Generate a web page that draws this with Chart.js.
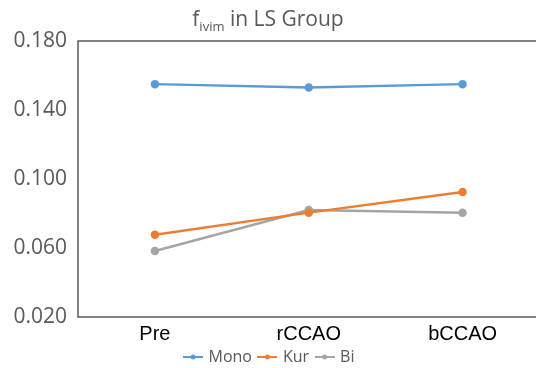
<!DOCTYPE html>
<html>
<head>
<meta charset="utf-8">
<script src="https://cdn.jsdelivr.net/npm/chart.js@4/dist/chart.umd.min.js"></script>
<style>
  html, body { margin: 0; padding: 0; background: #fff; overflow: hidden; }
  #wrap { position: relative; width: 536px; height: 368px; overflow: hidden; }
  #chart { display: block; }
</style>
</head>
<body>
<div id="wrap"><canvas id="chart" width="545" height="375"></canvas></div>
<script>
const categories = ['Pre', 'rCCAO', 'bCCAO'];
const monoValues = [0.155, 0.153, 0.155];
const kurValues = [0.0677, 0.0805, 0.0925];
const biValues = [0.0583, 0.082, 0.0805];
const yTicks = [0.020, 0.060, 0.100, 0.140, 0.180];

const grey = '#595959';

// little line+dot marker for the legend, like the spreadsheet one
function legendMarker(color) {
  const c = document.createElement('canvas');
  c.width = 20;
  c.height = 8;
  const ctx = c.getContext('2d');
  ctx.strokeStyle = color;
  ctx.lineWidth = 2;
  ctx.beginPath();
  ctx.moveTo(0, 4);
  ctx.lineTo(20, 4);
  ctx.stroke();
  ctx.fillStyle = color;
  ctx.beginPath();
  ctx.arc(10, 4, 2.5, 0, Math.PI * 2);
  ctx.fill();
  return c;
}

// title with the subscript, and the box round the plot area (right side runs off the picture)
const frame = {
  id: 'frame',
  afterDraw(chart) {
    const { ctx, chartArea } = chart;
    const { left, top, right, bottom } = chartArea;
    ctx.save();
    ctx.strokeStyle = grey;
    ctx.lineWidth = 1.5;
    ctx.beginPath();
    ctx.moveTo(right + 5, top);
    ctx.lineTo(left, top);
    ctx.lineTo(left, bottom);
    ctx.lineTo(right + 5, bottom);
    ctx.stroke();

    ctx.fillStyle = grey;
    ctx.textBaseline = 'alphabetic';
    const big = '21px "Open Sans"';
    const small = '13px "Open Sans"';
    ctx.font = big;
    const wf = ctx.measureText('f').width;
    const wRest = ctx.measureText(' in LS Group').width;
    ctx.font = small;
    const wSub = ctx.measureText('ivim').width;
    let x = 268 - (wf + wSub + wRest) / 2;
    ctx.font = big;
    ctx.fillText('f', x, 26);
    x += wf;
    ctx.font = small;
    ctx.fillText('ivim', x, 31);
    x += wSub;
    ctx.font = big;
    ctx.fillText(' in LS Group', x, 26);
    ctx.restore();
  }
};

function series(label, data, color) {
  return {
    label,
    data,
    borderColor: color,
    backgroundColor: color,
    borderWidth: 2.5,
    pointRadius: 3,
    pointHoverRadius: 3,
    pointStyle: 'circle',
    tension: 0
  };
}

new Chart(document.getElementById('chart'), {
  type: 'line',
  data: {
    labels: categories,
    datasets: [
      series('Mono', monoValues, '#5B9BD5'),
      series('Kur', kurValues, '#ED7D31'),
      series('Bi', biValues, '#A5A5A5')
    ]
  },
  options: {
    responsive: false,
    animation: false,
    layout: { padding: { top: 41, left: 0, right: 5, bottom: 0 } },
    scales: {
      x: {
        offset: true,
        grid: { display: false, drawTicks: false },
        border: { display: false },
        ticks: { color: '#000', padding: 5, font: { family: '"Liberation Sans", Arial', size: 20 } },
        afterFit: (scale) => { scale.height = 24; }
      },
      y: {
        min: 0.02,
        max: 0.18,
        afterBuildTicks: (scale) => { scale.ticks = yTicks.map(v => ({ value: v })); },
        grid: { display: false, drawTicks: false },
        border: { display: false },
        ticks: {
          color: grey,
          padding: 11,
          font: { family: '"Open Sans"', size: 21 },
          callback: (v) => Number(v).toFixed(3)
        },
        afterFit: (scale) => { scale.width = 78; }
      }
    },
    plugins: {
      legend: {
        position: 'bottom',
        labels: {
          color: grey,
          font: { family: '"Open Sans"', size: 16 },
          padding: 8,
          usePointStyle: true,
          pointStyleWidth: 15,
          generateLabels: (chart) => chart.data.datasets.map((ds, i) => ({
            text: ds.label,
            fillStyle: ds.borderColor,
            strokeStyle: ds.borderColor,
            fontColor: grey,
            lineWidth: 0,
            pointStyle: legendMarker(ds.borderColor),
            datasetIndex: i,
            hidden: false
          }))
        }
      },
      title: { display: false },
      tooltip: { enabled: false }
    }
  },
  plugins: [frame]
});
</script>
</body>
</html>
